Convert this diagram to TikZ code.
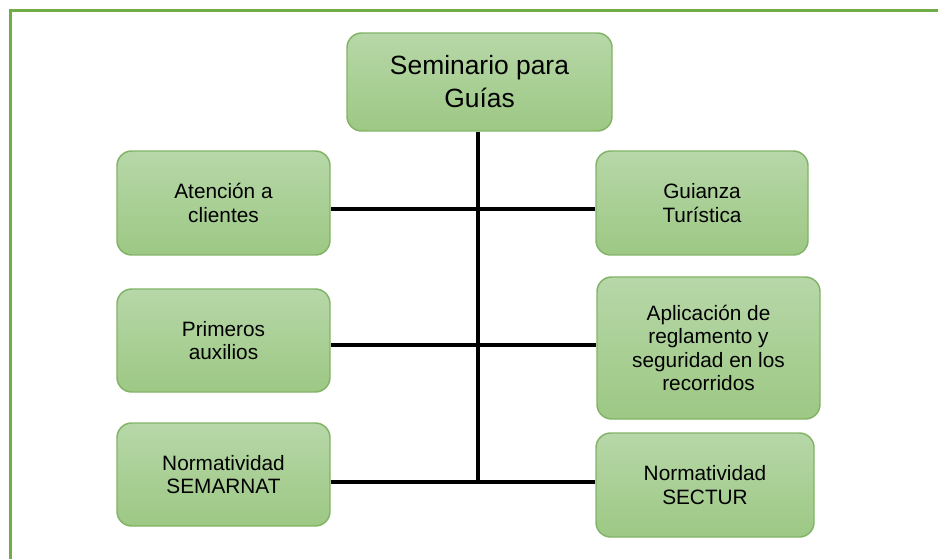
\documentclass[tikz,border=0pt]{standalone}
\usepackage{fontspec}
\setmainfont{Liberation Sans}
\definecolor{frameg}{RGB}{112,173,71}
\definecolor{boxtop}{RGB}{183,215,168}
\definecolor{boxbot}{RGB}{157,200,132}
\definecolor{boxline}{RGB}{130,179,102}
\tikzset{
  gbox/.style={rounded corners=11pt, draw=boxline, line width=1.1pt,
    top color=boxtop, bottom color=boxbot, align=center, inner sep=0pt,
    font=\fontsize{15.6pt}{17.6pt}\selectfont},
  bigbox/.style={gbox, font=\fontsize{19.8pt}{24.75pt}\selectfont},
  link/.style={line width=3pt, black}
}
\begin{document}
\begin{tikzpicture}[x=0.75pt,y=-0.75pt]
\useasboundingbox (0,0) rectangle (938,559);
\begin{scope}
\clip (0,0) rectangle (938,559);
\draw[frameg, line width=2.25pt] (10,11) rectangle (960,580);
\end{scope}
\node[bigbox, minimum width=198.75pt, minimum height=73.5pt] (top) at (479.5,82) {Seminario para\\Guías};
\node[gbox, minimum width=159.75pt, minimum height=78pt] (aten) at (223.5,203) {Atención a\\clientes};
\node[gbox, minimum width=159pt, minimum height=78pt] (guia) at (702,203) {Guianza\\Turística};
\node[gbox, minimum width=159.75pt, minimum height=77.25pt] (prim) at (223.5,340.5) {Primeros\\auxilios};
\node[gbox, minimum width=167.25pt, minimum height=106.5pt] (apl) at (708.5,348) {Aplicación de\\reglamento y\\seguridad en los\\recorridos};
\node[gbox, minimum width=159.75pt, minimum height=77.25pt] (sem) at (223.5,474.5) {Normatividad\\SEMARNAT};
\node[gbox, minimum width=163.5pt, minimum height=78pt] (sec) at (705,485) {Normatividad\\SECTUR};
\coordinate (h1) at (478,209);
\coordinate (h2) at (478,345);
\coordinate (h3) at (478,482);
\draw[link] (top.south -| h1) -- (h3);
\draw[link] (aten.east |- h1) -- (guia.west |- h1);
\draw[link] (prim.east |- h2) -- (apl.west |- h2);
\draw[link] (sem.east |- h3) -- (sec.west |- h3);
\end{tikzpicture}
\end{document}
